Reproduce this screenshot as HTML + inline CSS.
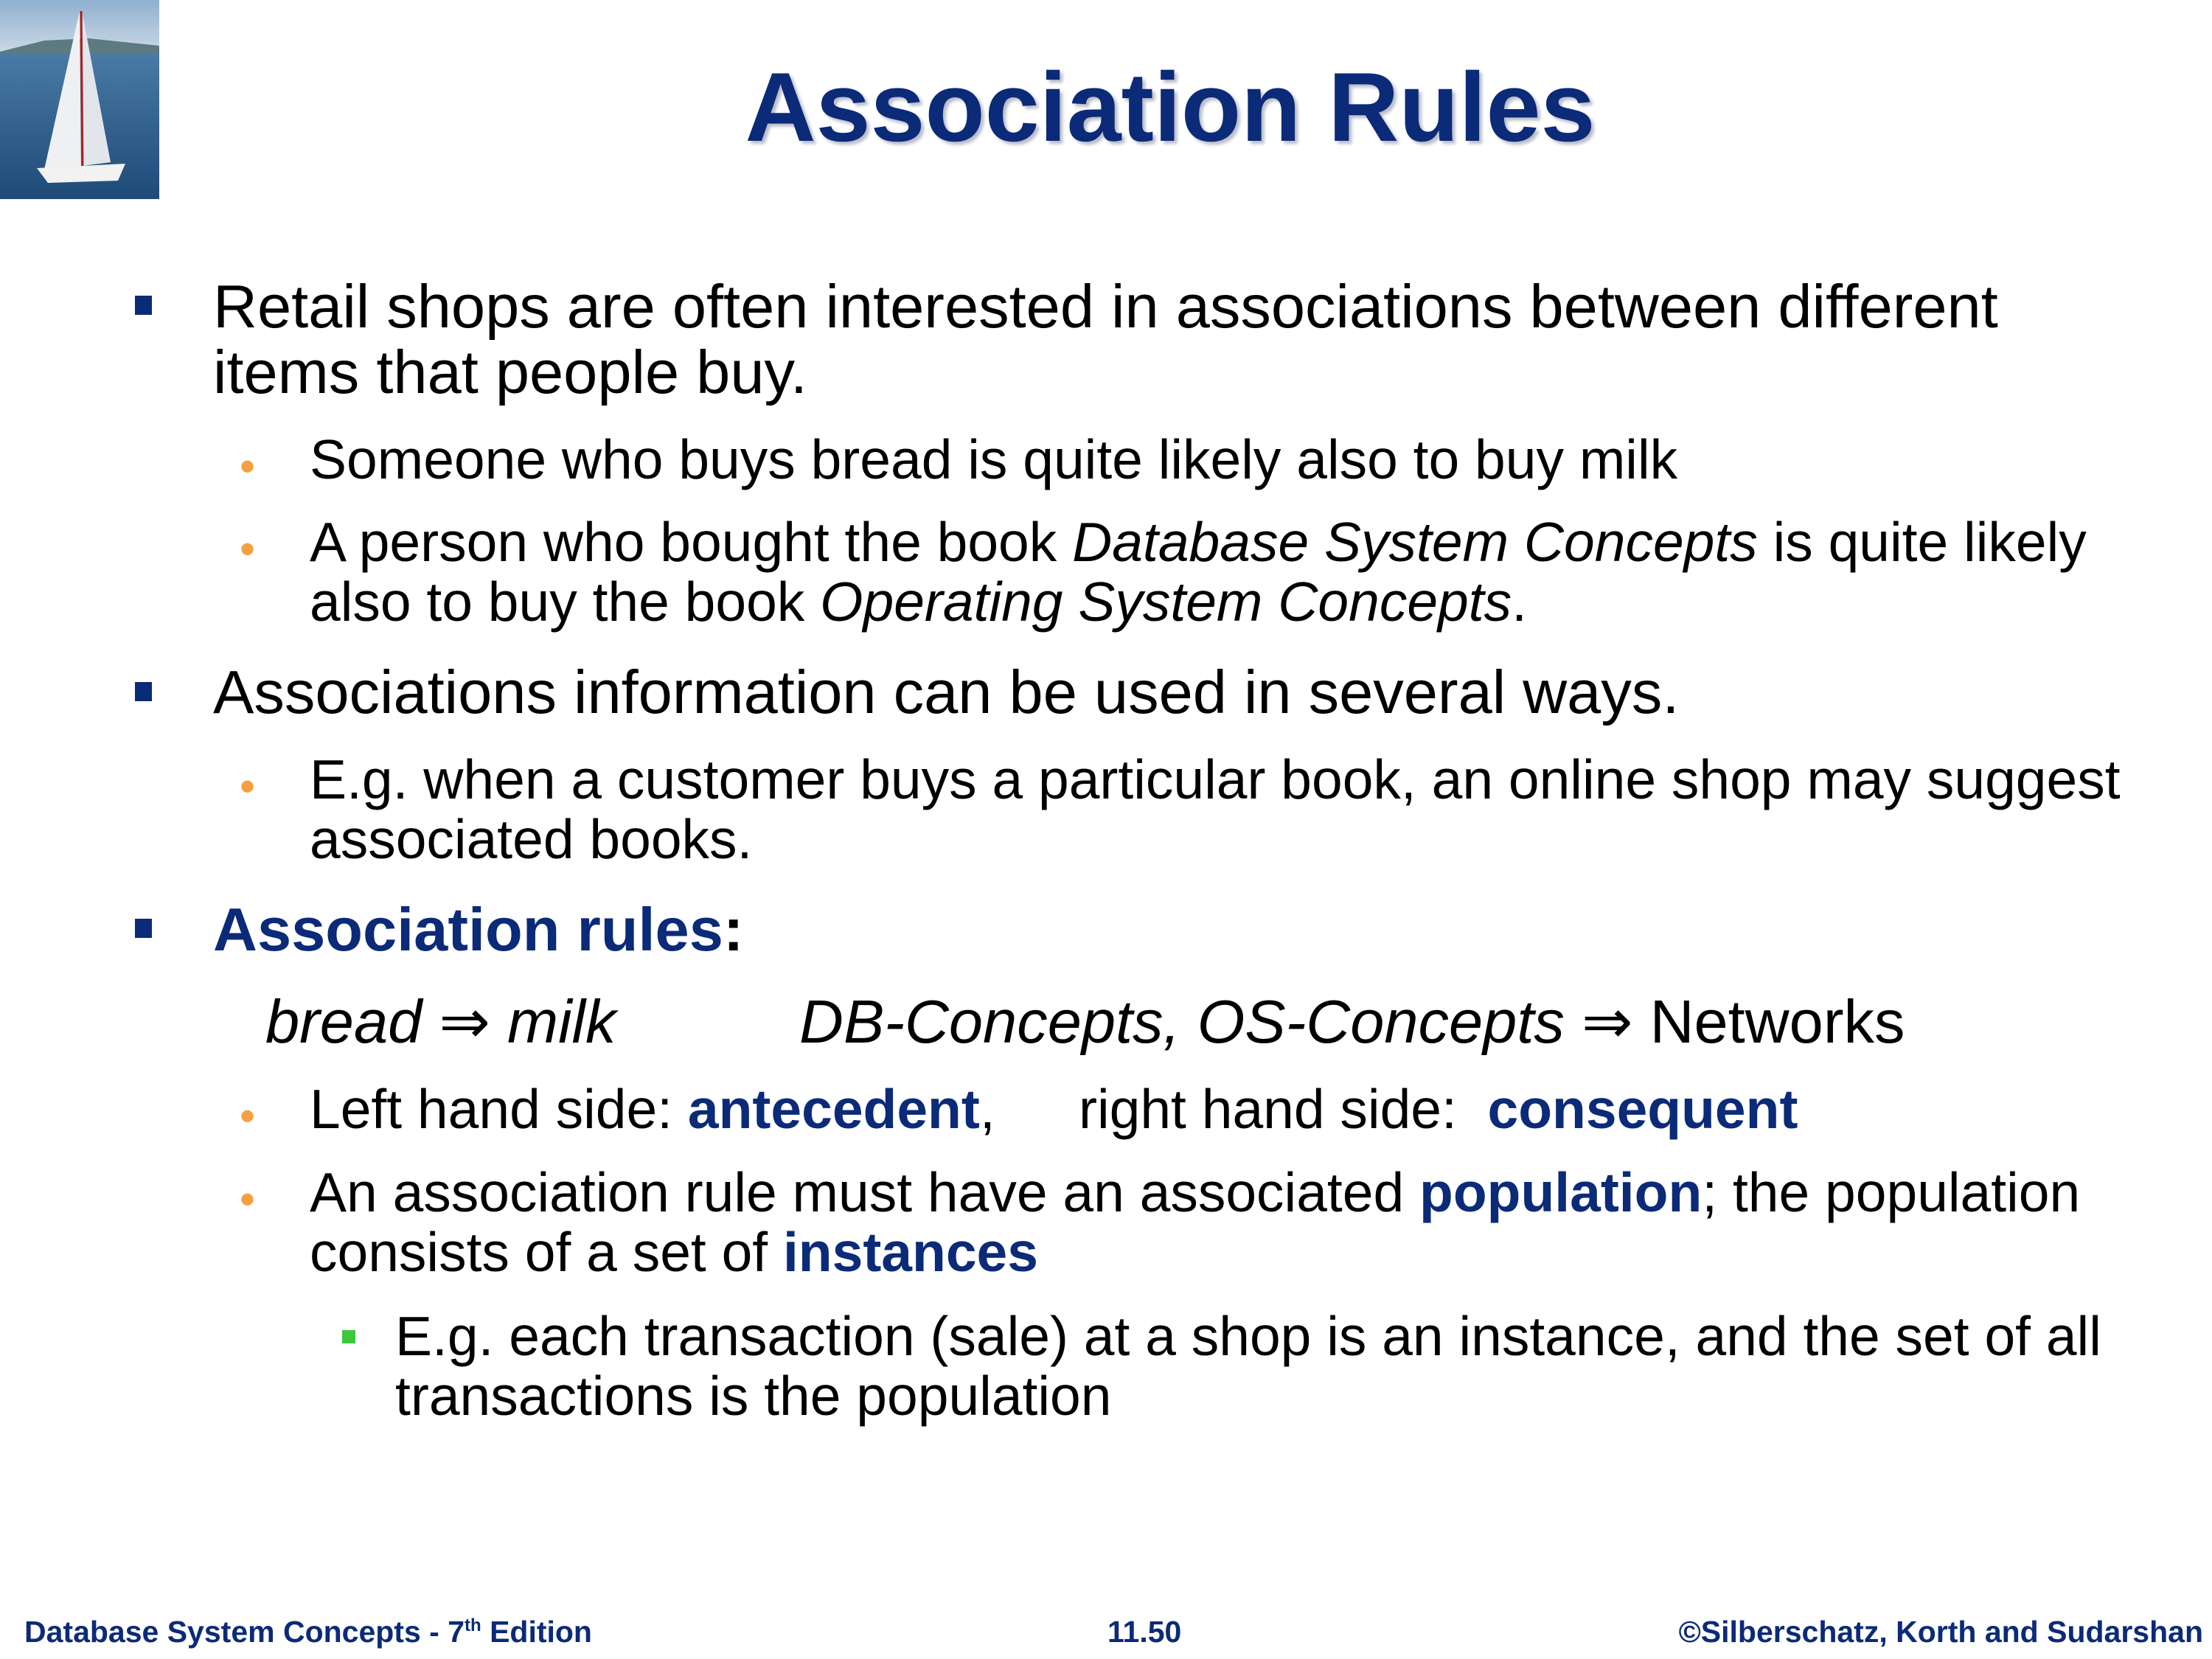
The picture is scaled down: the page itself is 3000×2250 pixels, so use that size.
<!DOCTYPE html>
<html><head><meta charset="utf-8"><style>
body{margin:0;width:3000px;height:2250px;background:#fff;position:relative;overflow:hidden;font-family:"Liberation Sans",Arial,sans-serif;color:#000}
.t{position:absolute;line-height:1;white-space:nowrap}
.m{font-size:83px}.s{font-size:75px}
.b{color:#0b2a78;font-weight:bold}
.sq{position:absolute;width:23px;height:26px;background:#0b2a78}
.dot{position:absolute;font-size:60px;color:#f5a040;line-height:1}
.f{position:absolute;font-size:41px;font-weight:bold;color:#0b2a78;line-height:1;white-space:nowrap}
</style></head><body>
<svg style="position:absolute;left:0;top:0" width="216" height="270" viewBox="0 0 216 270">
<defs><linearGradient id="sky" x1="0" y1="0" x2="0" y2="1"><stop offset="0" stop-color="#8fb0d0"/><stop offset="1" stop-color="#c9d8e6"/></linearGradient>
<linearGradient id="sea" x1="0" y1="0" x2="0" y2="1"><stop offset="0" stop-color="#4a7aa6"/><stop offset="1" stop-color="#1e4a78"/></linearGradient></defs>
<rect width="216" height="70" fill="url(#sky)"/><path d="M0 70 L60 55 L120 52 L216 62 L216 75 L0 75Z" fill="#5d7a80"/>
<rect y="72" width="216" height="198" fill="url(#sea)"/>
<path d="M108 15 L60 230 L110 225Z" fill="#eef0f2"/><path d="M112 20 L150 220 L112 225Z" fill="#e2e6ea"/>
<line x1="110" y1="15" x2="112" y2="230" stroke="#b02020" stroke-width="3"/>
<path d="M50 228 L170 222 L160 245 L65 248Z" fill="#f2f2f2"/>
</svg>
<div class="t b" style="font-size:133px;left:0;width:3174px;text-align:center;top:80px;text-shadow:4px 4px 4px #b8bcc8">Association Rules</div>

<div class="sq" style="left:183px;top:401px"></div>
<div class="t m" style="left:289px;top:374px">Retail shops are often interested in associations between different</div>
<div class="t m" style="left:289px;top:463px">items that people buy.</div>
<div class="dot" style="left:325px;top:603px">•</div>
<div class="t s" style="left:420px;top:586px">Someone who buys bread is quite likely also to buy milk</div>
<div class="dot" style="left:325px;top:715px">•</div>
<div class="t s" style="left:420px;top:698px">A person who bought the book <i>Database System Concepts</i> is quite likely</div>
<div class="t s" style="left:420px;top:779px">also to buy the book <i>Operating System Concepts</i>.</div>

<div class="sq" style="left:183px;top:925px"></div>
<div class="t m" style="left:289px;top:897px">Associations information can be used in several ways.</div>
<div class="dot" style="left:325px;top:1037px">•</div>
<div class="t s" style="left:420px;top:1020px">E.g. when a customer buys a particular book, an online shop may suggest</div>
<div class="t s" style="left:420px;top:1101px">associated books.</div>

<div class="sq" style="left:183px;top:1246px"></div>
<div class="t m" style="left:289px;top:1219px"><span class="b">Association rules</span><b>:</b></div>
<div class="t m" style="left:360px;top:1344px"><i>bread</i> ⇒ <i>milk</i></div>
<div class="t m" style="left:1084px;top:1344px"><i>DB-Concepts, OS-Concepts</i> ⇒ Networks</div>
<div class="dot" style="left:325px;top:1484px">•</div>
<div class="t s" style="left:420px;top:1467px">Left hand side: <span class="b">antecedent</span>,</div>
<div class="t s" style="left:1463px;top:1467px">right hand side:&nbsp; <span class="b">consequent</span></div>
<div class="dot" style="left:325px;top:1597px">•</div>
<div class="t s" style="left:420px;top:1580px">An association rule must have an associated <span class="b">population</span>; the population</div>
<div class="t s" style="left:420px;top:1661px">consists of a set of <span class="b">instances</span></div>
<div style="position:absolute;left:464px;top:1804px;width:18px;height:18px;background:#3bc83b"></div>
<div class="t s" style="left:536px;top:1775px">E.g. each transaction (sale) at a shop is an instance, and the set of all</div>
<div class="t s" style="left:536px;top:1856px">transactions is the population</div>

<div class="f" style="left:33px;top:2193px">Database System Concepts - 7<sup style="font-size:24px;vertical-align:15px">th</sup> Edition</div>
<div class="f" style="left:1502px;top:2193px">11.50</div>
<div class="f" style="right:12px;top:2193px">©Silberschatz, Korth and Sudarshan</div>
</body></html>
